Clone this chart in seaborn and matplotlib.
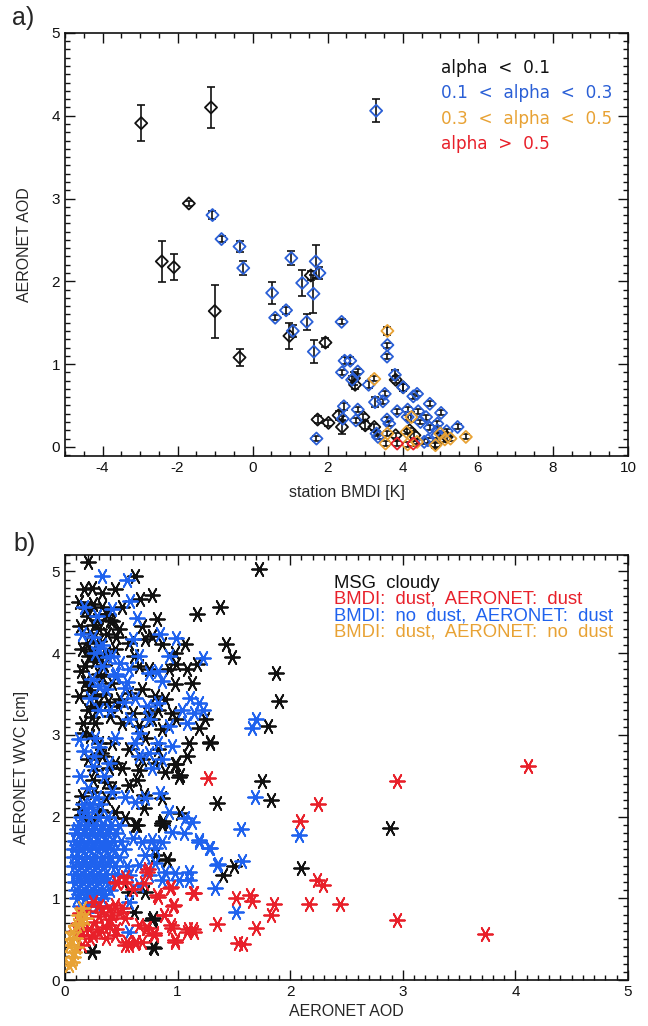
import numpy as np
import pandas as pd
import matplotlib
matplotlib.use("Agg")
import matplotlib.pyplot as plt
from matplotlib.ticker import MultipleLocator
import seaborn as sns

# ---------------- panel a data: station BMDI [K] vs AERONET AOD ----------------
a_black_x = [-2.97, -1.11, -1.70, -2.42, -2.10, -1.01, -0.35, 0.98, 1.94, 1.55,
             1.73, 2.02, 2.29, 2.38, 2.95, 3.00, 2.70, 2.73, 3.81, 3.24,
             4.31, 5.17, 4.87, 4.18, 3.81, 4.01]
a_black_y = [3.91, 4.10, 2.94, 2.24, 2.17, 1.64, 1.08, 1.34, 1.26, 2.07,
             0.33, 0.29, 0.38, 0.24, 0.36, 0.26, 0.83, 0.75, 0.81, 0.24,
             0.14, 0.12, 0.03, 0.20, 0.14, 0.72]
a_black_err = [0.22, 0.25, 0.03, 0.25, 0.155, 0.32, 0.10, 0.16, 0.05, 0.06,
               0.04, 0.04, 0.05, 0.08, 0.04, 0.05, 0.08, 0.05, 0.04, 0.04,
               0.04, 0.05, 0.03, 0.03, 0.03, 0.04]

a_blue_x = [3.29, -1.07, -0.83, -0.35, -0.25, 1.03, 1.68, 1.32, 1.78, 1.62,
            0.52, 0.60, 0.89, 1.07, 1.44, 2.37, 1.63, 3.59, 3.58, 2.45,
            2.60, 2.38, 2.80, 2.65, 3.09, 3.79, 4.01, 4.28, 4.38, 3.52,
            3.47, 3.26, 3.85, 4.13, 4.41, 4.72, 5.02, 2.43, 2.80, 2.75,
            2.40, 3.64, 3.34, 3.30, 4.13, 4.62, 4.47, 4.72, 4.92, 4.92,
            5.17, 5.46, 4.57, 4.67, 1.70, 4.92, 3.58]
a_blue_y = [4.06, 2.80, 2.51, 2.42, 2.16, 2.28, 2.24, 1.98, 2.10, 1.85,
            1.86, 1.56, 1.65, 1.40, 1.51, 1.51, 1.15, 1.23, 1.09, 1.04,
            1.04, 0.90, 0.91, 0.81, 0.75, 0.87, 0.72, 0.61, 0.64, 0.64,
            0.55, 0.54, 0.43, 0.45, 0.43, 0.52, 0.41, 0.49, 0.45, 0.32,
            0.34, 0.28, 0.12, 0.16, 0.36, 0.36, 0.30, 0.23, 0.28, 0.20,
            0.19, 0.24, 0.06, 0.08, 0.10, 0.14, 0.33]
a_blue_err = [0.14, 0.05, 0.04, 0.07, 0.08, 0.08, 0.20, 0.16, 0.07, 0.23,
              0.13, 0.03, 0.04, 0.07, 0.10, 0.03, 0.14, 0.03, 0.03, 0.04,
              0.04, 0.03, 0.03, 0.04, 0.04, 0.06, 0.04, 0.03, 0.03, 0.03,
              0.03, 0.06, 0.03, 0.03, 0.03, 0.03, 0.03, 0.04, 0.03, 0.03,
              0.03, 0.03, 0.03, 0.03, 0.03, 0.03, 0.03, 0.03, 0.03, 0.03,
              0.03, 0.03, 0.03, 0.03, 0.03, 0.03, 0.03]

a_orange_x = [3.59, 3.24, 3.59, 3.54, 4.10, 4.23, 4.13, 5.00, 5.12, 5.27, 5.68, 4.87, 4.38]
a_orange_y = [1.40, 0.82, 0.16, 0.04, 0.18, 0.36, 0.03, 0.16, 0.09, 0.10, 0.12, 0.02, 0.06]
a_orange_err = [0.05, 0.03, 0.03, 0.03, 0.03, 0.06, 0.03, 0.03, 0.03, 0.03, 0.03, 0.03, 0.03]

a_red_x = [3.85, 4.28]
a_red_y = [0.04, 0.04]
a_red_err = [0.03, 0.03]

a_labels = ["alpha  <  0.1", "0.1  <  alpha  <  0.3", "0.3  <  alpha  <  0.5", "alpha  >  0.5"]

# ---------------- panel b data: AERONET AOD vs AERONET WVC [cm] ----------------
b_black_x = [0.20, 0.17, 0.24, 0.33, 0.44, 0.62, 0.77, 1.17, 0.82, 0.13,
             0.20, 0.33, 0.36, 0.42, 0.51, 0.67, 0.30, 0.37, 0.48, 0.68,
             0.71, 0.77, 0.86, 1.07, 0.98, 0.20, 0.21, 0.18, 0.28, 0.36,
             0.44, 0.57, 0.61, 0.66, 0.75, 0.92, 0.99, 1.08, 1.17, 1.13,
             0.98, 0.22, 0.26, 0.33, 0.42, 0.49, 0.60, 0.57, 0.68, 0.80,
             0.89, 0.95, 0.83, 0.73, 0.20, 0.27, 0.40, 0.51, 0.66, 0.77,
             0.86, 0.99, 1.19, 1.24, 1.10, 1.29, 1.08, 0.98, 0.22, 0.42,
             0.57, 0.71, 0.83, 0.33, 0.44, 0.68, 0.80,
             0.27, 0.39, 0.51, 0.66, 0.36, 0.64, 0.89, 1.01, 0.57, 0.70,
             0.86, 0.36, 0.31, 0.15, 0.24, 0.44, 0.53, 0.62, 0.70, 0.86,
             1.02, 1.35, 0.80, 0.91, 0.77, 0.79, 0.24, 0.61, 0.57, 0.71,
             0.64, 0.86,
             1.72, 1.38, 1.43, 1.48, 1.87, 1.90, 1.80, 1.29, 1.02, 0.99,
             1.75, 1.83, 2.89, 2.10, 1.50, 1.40, 0.91, 0.78, 0.78, 0.24,
             0.87, 0.13,
             0.25, 0.28, 0.22, 0.30, 0.27, 0.35, 0.30, 0.18, 0.15, 0.40,
             0.45, 0.25, 0.38, 0.16, 0.30, 0.20, 0.25, 0.15, 0.42,
             0.12, 0.19, 0.26, 0.23, 0.31, 0.14, 0.21, 0.35, 0.29, 0.24,
             0.17, 0.32, 0.26, 0.12, 0.38, 0.47]
b_black_y = [5.11, 4.78, 4.80, 4.73, 4.78, 4.94, 4.71, 4.48, 4.42, 4.33,
             4.45, 4.57, 4.48, 4.39, 4.57, 4.66, 4.29, 4.24, 4.29, 4.33,
             4.17, 4.21, 4.11, 4.11, 4.00, 4.12, 3.96, 3.84, 4.06, 4.00,
             4.05, 4.12, 3.96, 3.84, 3.80, 3.80, 3.87, 3.80, 3.87, 3.63,
             3.62, 3.60, 3.47, 3.72, 3.63, 3.44, 3.27, 3.51, 3.56, 3.47,
             3.44, 3.27, 3.31, 3.27, 3.31, 3.14, 3.23, 3.14, 3.11, 3.19,
             3.07, 3.19, 3.08, 3.20, 2.90, 2.90, 2.74, 2.64, 2.98, 2.90,
             2.83, 2.96, 2.83, 2.74, 2.65, 2.70, 2.65,
             2.57, 2.59, 2.59, 2.57, 2.42, 2.45, 2.54, 2.48, 2.39, 2.26,
             2.23, 2.23, 2.08, 2.02, 1.96, 2.06, 1.98, 1.90, 2.10, 1.92,
             2.04, 2.17, 1.53, 1.47, 0.73, 0.39, 0.34, 0.83, 1.08, 1.08,
             1.90, 1.90,
             5.03, 4.56, 4.11, 3.95, 3.76, 3.42, 3.11, 2.91, 2.51, 2.64,
             2.43, 2.20, 1.86, 1.37, 1.39, 1.28, 1.48, 0.76, 0.40, 0.35,
             1.94, 2.09,
             4.60, 4.40, 4.25, 4.15, 3.90, 3.85, 3.75, 3.65, 4.05, 4.40,
             4.20, 3.35, 3.40, 3.15, 2.90, 2.70, 2.45, 2.25, 2.35,
             4.62, 4.55, 4.35, 4.02, 3.95, 3.78, 3.55, 3.50, 3.38, 3.22,
             3.02, 2.78, 2.30, 3.48, 4.48, 3.35]

b_blue_x = [0.33, 0.55, 0.17, 0.58, 0.64, 0.42, 0.28, 0.15, 0.60, 0.84,
            0.99, 1.23, 0.30, 0.27, 0.42, 0.49, 0.33, 0.57, 0.66, 0.44,
            0.24, 0.75, 0.83, 0.92, 0.86, 0.53, 0.36, 0.22, 0.30, 0.73,
            0.83, 1.11, 1.19, 1.04, 1.15, 1.23, 0.57, 0.75, 0.92, 1.08,
            0.27, 0.44, 0.66, 0.83, 0.95, 0.62, 0.26, 0.39, 0.66, 0.75,
            0.86,
            0.77, 0.84, 0.71, 0.62, 0.53, 0.42, 0.28, 0.22, 0.18, 0.92,
            1.07, 1.13, 0.95, 1.06, 1.19, 1.28, 1.35, 1.33, 0.86, 0.77,
            0.68, 0.60, 0.80, 0.71, 0.80, 0.89, 0.98, 1.10, 1.10, 1.01,
            0.86, 0.75, 0.66, 0.57, 0.66, 0.57, 0.57,
            1.66, 1.70, 1.69, 1.56, 2.08, 1.57, 1.36, 1.52, 1.29, 1.19,
            0.25, 0.33, 0.38, 0.45, 0.30, 0.52, 0.40, 0.62, 0.55,
            0.13, 0.20, 0.17, 0.25, 0.12, 0.35, 0.30,
            0.14, 0.22, 0.30, 0.38,
            0.12, 0.19, 0.26, 0.33, 0.41, 0.48,
            0.10, 0.17, 0.24, 0.31, 0.38, 0.45,
            0.09, 0.15, 0.22, 0.29, 0.36, 0.43, 0.50,
            0.08, 0.14, 0.21, 0.28, 0.35, 0.42, 0.52,
            0.08, 0.13, 0.20, 0.27, 0.34, 0.41, 0.48,
            0.08, 0.14, 0.21, 0.28, 0.35, 0.44, 0.55,
            0.09, 0.15, 0.22, 0.29, 0.36, 0.45,
            0.09, 0.16, 0.23, 0.30, 0.38,
            0.10, 0.17, 0.24, 0.31, 0.40,
            0.11, 0.18, 0.25, 0.33,
            0.13, 0.20, 0.28,
            0.11, 0.18, 0.25, 0.32, 0.39, 0.11, 0.18, 0.25, 0.32, 0.39,
            0.11, 0.18, 0.25, 0.32, 0.39, 0.12, 0.19, 0.26, 0.34, 0.12,
            0.20, 0.27, 0.35, 0.16, 0.23, 0.31]
b_blue_y = [4.94, 4.89, 4.57, 4.64, 4.43, 4.54, 4.45, 4.24, 4.17, 4.23,
            4.18, 3.94, 4.06, 4.00, 3.96, 3.88, 3.84, 3.80, 3.96, 3.72,
            3.68, 3.76, 3.78, 3.96, 3.66, 3.57, 3.56, 3.45, 3.31, 3.35,
            3.39, 3.45, 3.39, 3.31, 3.27, 3.31, 3.19, 3.19, 3.11, 3.14,
            2.96, 2.96, 3.02, 2.90, 2.86, 2.90, 2.74, 2.65, 2.74, 2.78,
            2.70,
            2.59, 2.29, 2.23, 2.18, 2.24, 2.30, 2.24, 2.12, 2.06, 2.06,
            1.98, 1.93, 1.81, 1.80, 1.69, 1.61, 1.41, 1.13, 1.69, 1.71,
            1.69, 1.74, 1.61, 1.53, 1.43, 1.32, 1.31, 1.32, 1.22, 1.22,
            1.22, 1.28, 1.41, 1.28, 1.16, 0.95, 0.59,
            3.09, 3.20, 2.24, 1.85, 1.77, 1.46, 1.42, 0.83, 1.62, 1.71,
            4.20, 4.10, 3.95, 3.75, 3.60, 3.40, 3.30, 3.45, 3.65,
            2.50, 2.35, 2.80, 2.62, 2.95, 2.50, 2.85,
            2.0, 2.0, 2.0, 2.0,
            1.9, 1.9, 1.9, 1.9, 1.9, 1.9,
            1.8, 1.8, 1.8, 1.8, 1.8, 1.8,
            1.7, 1.7, 1.7, 1.7, 1.7, 1.7, 1.7,
            1.6, 1.6, 1.6, 1.6, 1.6, 1.6, 1.6,
            1.5, 1.5, 1.5, 1.5, 1.5, 1.5, 1.5,
            1.4, 1.4, 1.4, 1.4, 1.4, 1.4, 1.4,
            1.3, 1.3, 1.3, 1.3, 1.3, 1.3,
            1.2, 1.2, 1.2, 1.2, 1.2,
            1.1, 1.1, 1.1, 1.1, 1.1,
            1.0, 1.0, 1.0, 1.0,
            0.9, 0.9, 0.9,
            1.85, 1.85, 1.85, 1.85, 1.85, 1.65, 1.65, 1.65, 1.65, 1.65,
            1.45, 1.45, 1.45, 1.45, 1.45, 1.25, 1.25, 1.25, 1.25, 1.05,
            1.05, 1.05, 1.05, 2.15, 2.15, 2.15]

b_red_x = [4.11, 2.95, 2.25, 2.09, 1.27, 2.24, 2.29, 2.44, 2.17, 1.86,
           1.83, 1.64, 1.66, 1.52, 1.70, 1.54, 1.58, 2.95, 3.73, 1.35,
           1.14, 1.09, 1.14, 0.94, 0.98, 0.96, 0.88, 0.82, 0.94, 0.79,
           0.72, 0.63, 0.55, 0.74, 0.53, 0.45, 0.60,
           0.15, 0.21, 0.27, 0.18, 0.33, 0.42, 0.48, 0.53, 0.39, 0.30,
           0.36, 0.44, 0.53, 0.62, 0.68, 0.15, 0.22, 0.44, 0.51, 0.39,
           0.53, 0.46, 0.70, 0.73, 0.93, 0.83, 0.88, 0.97, 0.73, 0.79,
           0.95, 0.98, 1.08, 1.15, 1.15, 0.57, 0.66,
           0.12, 0.20, 0.25, 0.30, 0.35, 0.25, 0.18, 0.30, 0.40, 0.45,
           0.10, 0.13]
b_red_y = [2.62, 2.44, 2.16, 1.95, 2.47, 1.22, 1.16, 0.93, 0.93, 0.93,
           0.80, 1.04, 0.97, 1.00, 0.64, 0.45, 0.44, 0.73, 0.56, 0.69,
           1.07, 0.63, 0.62, 0.67, 0.49, 0.91, 0.80, 1.04, 1.14, 0.58,
           0.64, 0.47, 0.47, 1.36, 1.26, 1.20, 1.12,
           0.55, 0.63, 0.71, 0.76, 0.83, 0.80, 0.83, 0.76, 0.67, 0.59,
           0.51, 0.55, 0.43, 0.45, 0.46, 0.43, 0.51, 0.92, 0.88, 0.88,
           1.20, 1.19, 1.19, 1.32, 1.13, 1.02, 0.80, 0.92, 0.64, 0.55,
           0.64, 0.46, 0.59, 0.59, 1.06, 0.43, 0.67,
           0.70, 0.85, 0.95, 0.78, 0.65, 0.55, 0.62, 0.90, 0.75, 0.62,
           0.60, 0.82]

b_orange_x = [0.06, 0.08, 0.09, 0.11, 0.12, 0.15, 0.04, 0.06, 0.10, 0.04,
              0.13, 0.18, 0.07, 0.05]
b_orange_y = [0.22, 0.34, 0.51, 0.67, 0.80, 0.88, 0.43, 0.59, 0.40, 0.18,
              0.70, 0.76, 0.28, 0.50]

b_labels = ["MSG  cloudy", "BMDI:  dust,  AERONET:  dust",
            "BMDI:  no  dust,  AERONET:  dust", "BMDI:  dust,  AERONET:  no  dust"]

# ---------------- style ----------------
BLACK = "#111111"
BLUE_A = "#2a5fd6"
BLUE_B = "#1f62ee"
ORANGE = "#e8a234"
RED = "#e8202a"

sns.set_style("ticks")
plt.rcParams["font.family"] = ["Liberation Sans", "DejaVu Sans"]
plt.rcParams["axes.unicode_minus"] = False

fig = plt.figure(figsize=(6.48, 10.26), dpi=100)
axa = fig.add_axes([0.1003, 0.5556, 0.8688, 0.4123])
axb = fig.add_axes([0.1003, 0.0448, 0.8688, 0.4142])

# ---------------- panel a ----------------
groups_a = [
    (a_black_x, a_black_y, a_black_err, BLACK),
    (a_blue_x, a_blue_y, a_blue_err, BLUE_A),
    (a_orange_x, a_orange_y, a_orange_err, ORANGE),
    (a_red_x, a_red_y, a_red_err, RED),
]
for gx, gy, ge, col in groups_a:
    axa.errorbar(gx, gy, yerr=ge, fmt="none", ecolor=BLACK, elinewidth=1.2,
                 capsize=2.6, capthick=1.2, zorder=2)
for gx, gy, ge, col in groups_a:
    sns.scatterplot(x=gx, y=gy, ax=axa, marker="D", s=38, facecolors="none",
                    edgecolor=col, linewidth=1.3, zorder=3, legend=False)

axa.set_xlim(-5, 10)
axa.set_ylim(-0.11, 5.0)
axa.xaxis.set_major_locator(MultipleLocator(2))
axa.xaxis.set_minor_locator(MultipleLocator(0.5))
axa.yaxis.set_major_locator(MultipleLocator(1))
axa.yaxis.set_minor_locator(MultipleLocator(0.1))
axa.set_xlabel("station BMDI [K]", fontsize=11.5, labelpad=7)
axa.set_ylabel("AERONET AOD", fontsize=11.5, labelpad=14)

for i, (txt, col) in enumerate(zip(a_labels, [BLACK, BLUE_A, ORANGE, RED])):
    axa.text(0.668, 0.918 - i * 0.0605, txt, transform=axa.transAxes, color=col,
             fontsize=12.2, va="center", ha="left", family=["DejaVu Sans"])

# ---------------- panel b ----------------
df_b = pd.concat([
    pd.DataFrame({"aod": b_black_x, "wvc": b_black_y, "cls": "cloudy"}),
    pd.DataFrame({"aod": b_blue_x, "wvc": b_blue_y, "cls": "nodust_dust"}),
    pd.DataFrame({"aod": b_red_x, "wvc": b_red_y, "cls": "dust_dust"}),
    pd.DataFrame({"aod": b_orange_x, "wvc": b_orange_y, "cls": "dust_nodust"}),
], ignore_index=True)

star = (6, 2, 90)
for cls, col in [("cloudy", BLACK), ("nodust_dust", BLUE_B),
                 ("dust_dust", RED), ("dust_nodust", ORANGE)]:
    sub = df_b[df_b["cls"] == cls]
    sns.scatterplot(data=sub, x="aod", y="wvc", ax=axb, marker=star, s=115,
                    color=col, linewidth=1.3, legend=False, zorder=3)

axb.set_xlim(0, 5)
axb.set_ylim(0, 5.2)
axb.xaxis.set_major_locator(MultipleLocator(1))
axb.xaxis.set_minor_locator(MultipleLocator(0.1))
axb.yaxis.set_major_locator(MultipleLocator(1))
axb.yaxis.set_minor_locator(MultipleLocator(0.1))
axb.set_xlabel("AERONET AOD", fontsize=11.5, labelpad=4)
axb.set_ylabel("AERONET WVC [cm]", fontsize=11.5, labelpad=16)

for i, (txt, col) in enumerate(zip(b_labels, [BLACK, RED, BLUE_B, ORANGE])):
    axb.text(0.478, 0.934 - i * 0.0385, txt, transform=axb.transAxes, color=col,
             fontsize=13.3, va="center", ha="left")

for ax in (axa, axb):
    ax.tick_params(which="both", direction="in", top=True, right=True,
                   labelsize=11, width=1.0, colors=BLACK)
    ax.tick_params(which="major", length=7)
    ax.tick_params(which="minor", length=3.5)
    for sp in ax.spines.values():
        sp.set_linewidth(1.2)
        sp.set_color(BLACK)
        sp.set_visible(True)

fig.text(0.018, 0.982, "a)", fontsize=18, va="center", ha="left")
fig.text(0.020, 0.470, "b)", fontsize=18, va="center", ha="left")

fig.savefig("out.png", dpi=100)
